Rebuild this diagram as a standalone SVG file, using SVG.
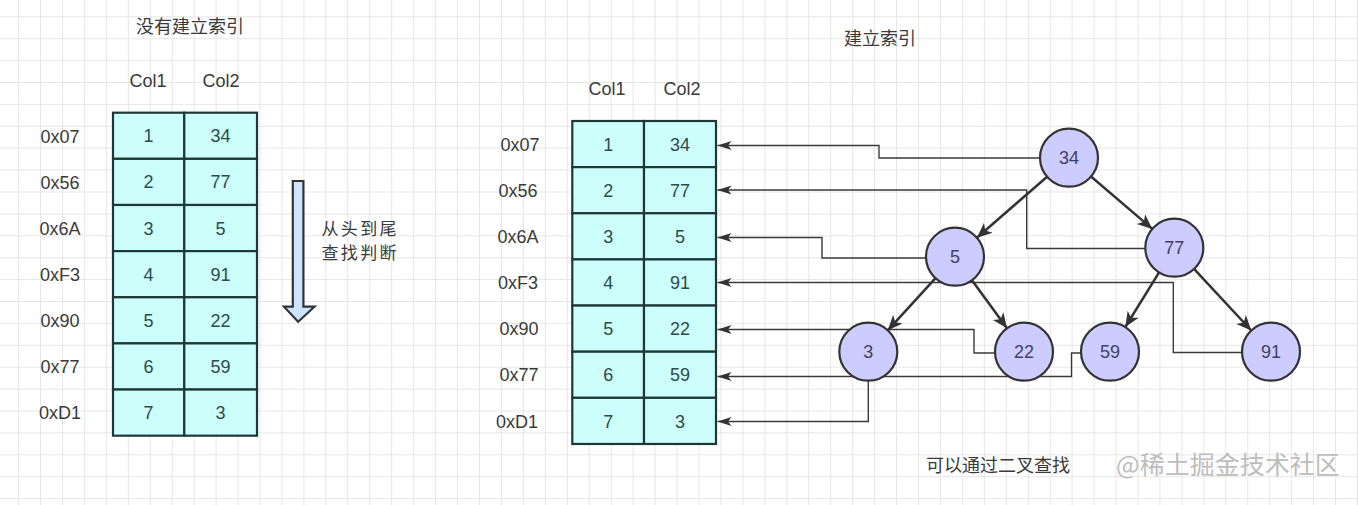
<svg xmlns="http://www.w3.org/2000/svg" width="1358" height="505" viewBox="0 0 1358 505">
<defs>
<pattern id="grid" x="18.05" y="16.3" width="21.95" height="21.9" patternUnits="userSpaceOnUse">
<path d="M0.5,0 V21.9 M0,0.5 H21.95" fill="none" stroke="#e6e6e6" stroke-width="1"/>
</pattern>
<marker id="treeArrow" markerUnits="userSpaceOnUse" markerWidth="16" markerHeight="14" refX="15" refY="6.5" orient="auto" viewBox="0 0 16 13">
<path d="M0,0 L15,6.5 L0,13 L4,6.5 Z" fill="#333"/>
</marker>
<marker id="thinArrow" markerUnits="userSpaceOnUse" markerWidth="15" markerHeight="10" refX="14" refY="4.5" orient="auto" viewBox="0 0 15 9">
<path d="M0,0 L14,4.5 L0,9 L3.5,4.5 Z" fill="#333"/>
</marker>
</defs>
<style>
.lbl{font-family:"Liberation Sans","Noto Sans CJK SC",sans-serif;font-size:18px;fill:#3a3a3a;text-anchor:middle}
.cjk{font-family:"Noto Sans CJK SC","Liberation Sans",sans-serif;font-size:18px;fill:#3a3a3a}
.cjk2{font-family:"Noto Sans CJK SC","Liberation Sans",sans-serif;font-size:17px;fill:#3a3a3a}
.cell{fill:#ccfffc;stroke:#1e3838;stroke-width:2.2}
.ct{font-family:"Liberation Sans",sans-serif;font-size:18px;fill:#2e4a4a;text-anchor:middle}
.node circle{fill:#ccccff;stroke:#333;stroke-width:2.2}
.node text{font-family:"Liberation Sans",sans-serif;font-size:18px;fill:#3f3f66;text-anchor:middle}
.tree{fill:none;stroke:#333;stroke-width:2.5;marker-end:url(#treeArrow)}
.ptr{fill:none;stroke:#3a3a3a;stroke-width:1.4;marker-end:url(#thinArrow)}
</style>
<rect width="1358" height="505" fill="#ffffff"/>
<rect width="1358" height="505" fill="url(#grid)"/>

<!-- Left: no index -->
<g id="title-left"><text class="cjk" x="190" y="33" text-anchor="middle">没有建立索引</text></g>
<g id="left-headers">
<text class="lbl" x="148" y="87">Col1</text>
<text class="lbl" x="221" y="87">Col2</text>
</g>
<g id="left-addresses">
<text class="lbl" x="60" y="142.5">0x07</text>
<text class="lbl" x="60" y="188.5">0x56</text>
<text class="lbl" x="60" y="234.5">0x6A</text>
<text class="lbl" x="60" y="280.5">0xF3</text>
<text class="lbl" x="60" y="326.5">0x90</text>
<text class="lbl" x="60" y="372.5">0x77</text>
<text class="lbl" x="60" y="418.5">0xD1</text>
</g>
<g id="left-table">
<rect class="cell" x="113" y="112.7" width="71.3" height="46.14"/><rect class="cell" x="184.3" y="112.7" width="72.7" height="46.14"/>
<rect class="cell" x="113" y="158.84" width="71.3" height="46.14"/><rect class="cell" x="184.3" y="158.84" width="72.7" height="46.14"/>
<rect class="cell" x="113" y="204.98" width="71.3" height="46.14"/><rect class="cell" x="184.3" y="204.98" width="72.7" height="46.14"/>
<rect class="cell" x="113" y="251.12" width="71.3" height="46.14"/><rect class="cell" x="184.3" y="251.12" width="72.7" height="46.14"/>
<rect class="cell" x="113" y="297.26" width="71.3" height="46.14"/><rect class="cell" x="184.3" y="297.26" width="72.7" height="46.14"/>
<rect class="cell" x="113" y="343.4" width="71.3" height="46.14"/><rect class="cell" x="184.3" y="343.4" width="72.7" height="46.14"/>
<rect class="cell" x="113" y="389.54" width="71.3" height="46.14"/><rect class="cell" x="184.3" y="389.54" width="72.7" height="46.14"/>
<text class="ct" x="148.6" y="142.3">1</text><text class="ct" x="220.6" y="142.3">34</text>
<text class="ct" x="148.6" y="188.4">2</text><text class="ct" x="220.6" y="188.4">77</text>
<text class="ct" x="148.6" y="234.6">3</text><text class="ct" x="220.6" y="234.6">5</text>
<text class="ct" x="148.6" y="280.7">4</text><text class="ct" x="220.6" y="280.7">91</text>
<text class="ct" x="148.6" y="326.9">5</text><text class="ct" x="220.6" y="326.9">22</text>
<text class="ct" x="148.6" y="373">6</text><text class="ct" x="220.6" y="373">59</text>
<text class="ct" x="148.6" y="419.2">7</text><text class="ct" x="220.6" y="419.2">3</text>
</g>
<g id="scan-arrow">
<path d="M292.8,181 H303.4 V306.7 H314.5 L298.1,321.8 L284,306.7 H292.8 Z" fill="#cce5ff" stroke="#333" stroke-width="2.2" stroke-linejoin="miter"/>
</g>
<g id="scan-label">
<text class="cjk2" x="321.5" y="234.7" textLength="75" lengthAdjust="spacing">从头到尾</text>
<text class="cjk2" x="321.5" y="259.4" textLength="75" lengthAdjust="spacing">查找判断</text>
</g>

<!-- Right: with index -->
<g id="title-right"><text class="cjk" x="880" y="44.5" text-anchor="middle">建立索引</text></g>
<g id="right-headers">
<text class="lbl" x="607" y="95">Col1</text>
<text class="lbl" x="682" y="95">Col2</text>
</g>
<g id="right-addresses">
<text class="lbl" x="520" y="151">0x07</text>
<text class="lbl" x="518" y="197">0x56</text>
<text class="lbl" x="518" y="243">0x6A</text>
<text class="lbl" x="518" y="289">0xF3</text>
<text class="lbl" x="519" y="335">0x90</text>
<text class="lbl" x="519" y="381">0x77</text>
<text class="lbl" x="517" y="428">0xD1</text>
</g>
<g id="right-table">
<rect class="cell" x="572.3" y="121" width="71.7" height="46.14"/><rect class="cell" x="644" y="121" width="72" height="46.14"/>
<rect class="cell" x="572.3" y="167.14" width="71.7" height="46.14"/><rect class="cell" x="644" y="167.14" width="72" height="46.14"/>
<rect class="cell" x="572.3" y="213.28" width="71.7" height="46.14"/><rect class="cell" x="644" y="213.28" width="72" height="46.14"/>
<rect class="cell" x="572.3" y="259.42" width="71.7" height="46.14"/><rect class="cell" x="644" y="259.42" width="72" height="46.14"/>
<rect class="cell" x="572.3" y="305.56" width="71.7" height="46.14"/><rect class="cell" x="644" y="305.56" width="72" height="46.14"/>
<rect class="cell" x="572.3" y="351.7" width="71.7" height="46.14"/><rect class="cell" x="644" y="351.7" width="72" height="46.14"/>
<rect class="cell" x="572.3" y="397.84" width="71.7" height="46.14"/><rect class="cell" x="644" y="397.84" width="72" height="46.14"/>
<text class="ct" x="608.2" y="150.6">1</text><text class="ct" x="680" y="150.6">34</text>
<text class="ct" x="608.2" y="196.7">2</text><text class="ct" x="680" y="196.7">77</text>
<text class="ct" x="608.2" y="242.9">3</text><text class="ct" x="680" y="242.9">5</text>
<text class="ct" x="608.2" y="289">4</text><text class="ct" x="680" y="289">91</text>
<text class="ct" x="608.2" y="335.2">5</text><text class="ct" x="680" y="335.2">22</text>
<text class="ct" x="608.2" y="381.3">6</text><text class="ct" x="680" y="381.3">59</text>
<text class="ct" x="608.2" y="427.5">7</text><text class="ct" x="680" y="427.5">3</text>
</g>

<g id="connectors">
<path class="ptr" d="M1040,158 H879 V145.5 H717.5"/>
<path class="ptr" d="M1145.3,248.5 H1026.7 V190 H717.5"/>
<path class="ptr" d="M926,258 H822 V237.5 H717.5"/>
<path class="ptr" d="M1242,352.5 H1173.3 V282.5 H717.5"/>
<path class="ptr" d="M995,353 H974 V329.5 H717.5"/>
<path class="ptr" d="M1081,353 H1071.5 V376.5 H717.5"/>
<path class="ptr" d="M868.3,380.7 V421.5 H717.5"/>
<path class="tree" d="M1047.1,176.7 L976.9,237.7"/>
<path class="tree" d="M1091,176.5 L1152.3,228.9"/>
<path class="tree" d="M935.5,278.1 L887.8,330.3"/>
<path class="tree" d="M972,280.2 L1007,328.2"/>
<path class="tree" d="M1159.1,272.4 L1125.3,327"/>
<path class="tree" d="M1194,268.9 L1251.3,330.5"/>
</g>

<g id="node-34" class="node"><circle cx="1069" cy="157.7" r="29"/><text x="1069" y="164.2">34</text></g>
<g id="node-77" class="node"><circle cx="1174.3" cy="247.7" r="29"/><text x="1174.3" y="254.2">77</text></g>
<g id="node-5" class="node"><circle cx="955" cy="256.7" r="29"/><text x="955" y="263.2">5</text></g>
<g id="node-3" class="node"><circle cx="868.3" cy="351.7" r="29"/><text x="868.3" y="358.2">3</text></g>
<g id="node-22" class="node"><circle cx="1024" cy="351.7" r="29"/><text x="1024" y="358.2">22</text></g>
<g id="node-59" class="node"><circle cx="1110" cy="351.7" r="29"/><text x="1110" y="358.2">59</text></g>
<g id="node-91" class="node"><circle cx="1271" cy="351.7" r="29"/><text x="1271" y="358.2">91</text></g>

<g id="caption"><text class="cjk" x="926" y="472">可以通过二叉查找</text></g>
<g id="watermark"><text x="1116" y="474" font-family="Noto Sans CJK SC, sans-serif" font-size="25px" fill="#bdbdbd">@稀土掘金技术社区</text></g>
</svg>
